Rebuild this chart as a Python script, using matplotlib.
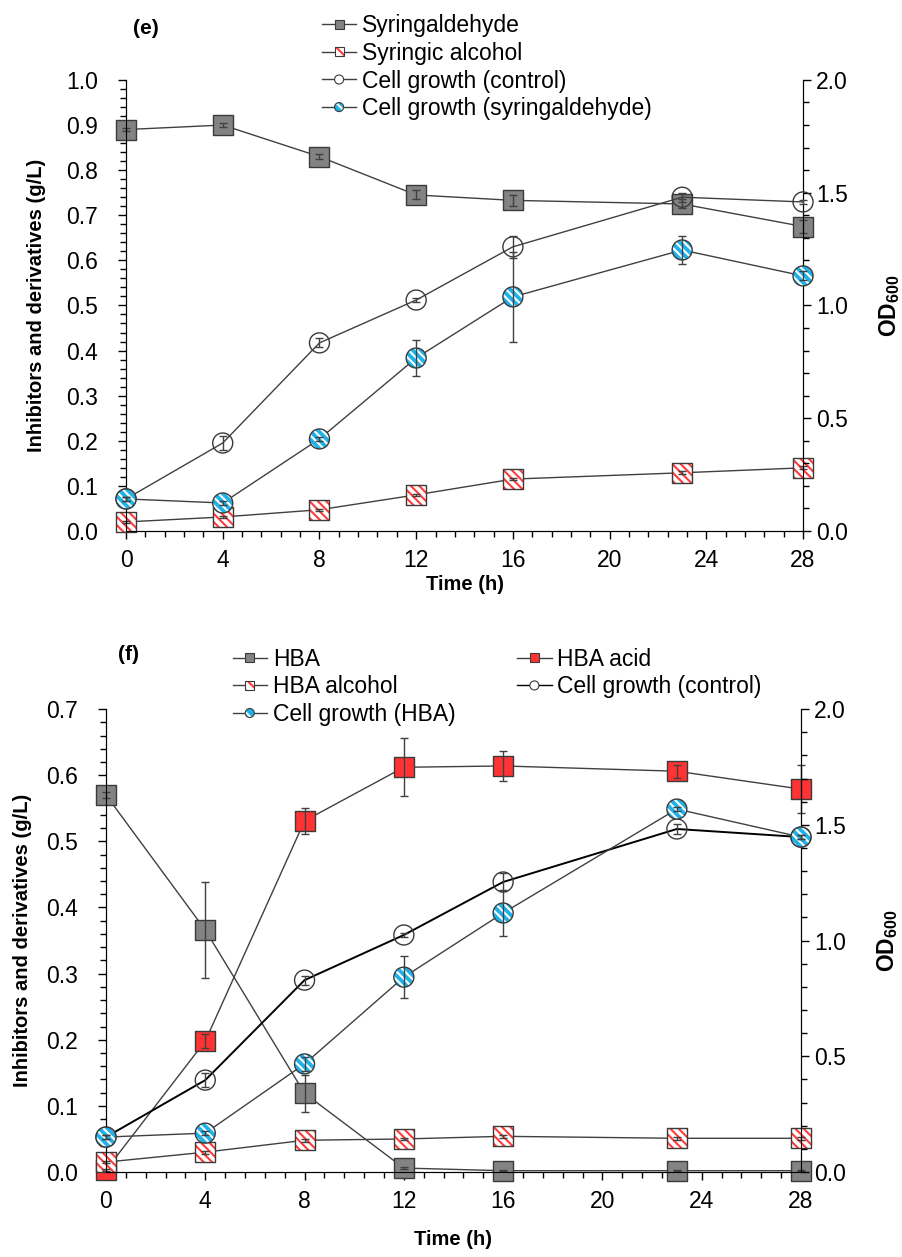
import numpy as np
import matplotlib
matplotlib.use("Agg")
import matplotlib.pyplot as plt
from matplotlib.lines import Line2D
from matplotlib.patches import Rectangle, Ellipse
from matplotlib.legend_handler import HandlerBase
from matplotlib.ticker import MultipleLocator, FormatStrFormatter

plt.rcParams['font.family'] = ['Liberation Sans', 'DejaVu Sans']
plt.rcParams['hatch.linewidth'] = 1.5
plt.rcParams['mathtext.fontset'] = 'custom'
plt.rcParams['mathtext.bf'] = 'Liberation Sans:bold'
plt.rcParams['mathtext.rm'] = 'Liberation Sans'

# sampling times (h)
t = [0, 4, 8, 12, 16, 23, 28]

# panel (e) - syringaldehyde
syr = [0.89, 0.90, 0.83, 0.745, 0.733, 0.725, 0.675]
syr_err = [0.004, 0.004, 0.005, 0.01, 0.012, 0.01, 0.015]
syr_alc = [0.02, 0.031, 0.047, 0.08, 0.115, 0.129, 0.14]
syr_alc_err = [0.002, 0.002, 0.002, 0.003, 0.003, 0.003, 0.003]
od_ctrl_e = [0.142, 0.39, 0.834, 1.024, 1.26, 1.48, 1.459]
od_ctrl_e_err = [0.01, 0.03, 0.02, 0.01, 0.05, 0.02, 0.01]
od_syr = [0.142, 0.124, 0.408, 0.767, 1.038, 1.246, 1.131]
od_syr_err = [0.01, 0.01, 0.01, 0.078, 0.2, 0.064, 0.02]

# panel (f) - HBA
hba = [0.570, 0.366, 0.119, 0.006, 0.002, 0.002, 0.002]
hba_err = [0.005, 0.072, 0.028, 0.002, 0.001, 0.001, 0.001]
hba_acid = [0.003, 0.198, 0.531, 0.612, 0.614, 0.606, 0.579]
hba_acid_err = [0.001, 0.01, 0.02, 0.044, 0.022, 0.01, 0.036]
hba_alc = [0.015, 0.030, 0.048, 0.050, 0.054, 0.051, 0.051]
hba_alc_err = [0.002, 0.002, 0.002, 0.002, 0.002, 0.002, 0.002]
od_ctrl_f = [0.151, 0.397, 0.829, 1.024, 1.253, 1.482, 1.447]
od_ctrl_f_err = [0.01, 0.03, 0.02, 0.01, 0.04, 0.02, 0.01]
od_hba = [0.151, 0.168, 0.467, 0.842, 1.119, 1.568, 1.447]
od_hba_err = [0.01, 0.01, 0.03, 0.09, 0.1, 0.01, 0.01]

LINE = '#404040'
EDGE = '#3a3a3a'
GRAY = '#848282'
RED = '#ff3333'
STRIPE_RED = '#ff3b3b'
BLUE = '#1fb2e8'
FS = 16.5    # ticks and legend
LFS = 14.5   # bold axis labels
MS = 14.4 ** 2
HATCH = '\\\\\\\\'


def series(ax, y, err, kind, lc=LINE, lw=1.0):
    ax.plot(t, y, color=lc, lw=lw, zorder=2, clip_on=False)
    m = 's' if kind in ('gray', 'red', 'redhatch') else 'o'
    if kind == 'gray':
        ax.scatter(t, y, s=MS, marker=m, facecolor=GRAY, edgecolor=EDGE, linewidths=1, zorder=3, clip_on=False)
    elif kind == 'red':
        ax.scatter(t, y, s=MS, marker=m, facecolor=RED, edgecolor=EDGE, linewidths=1, zorder=3, clip_on=False)
    elif kind == 'open':
        ax.scatter(t, y, s=MS, marker=m, facecolor='none', edgecolor=EDGE, linewidths=1, zorder=3, clip_on=False)
    else:
        face, stripe = ('white', STRIPE_RED) if kind == 'redhatch' else (BLUE, 'white')
        ax.scatter(t, y, s=MS, marker=m, facecolor=face, edgecolor=stripe, linewidths=0,
                   hatch=HATCH, zorder=3, clip_on=False)
        ax.scatter(t, y, s=MS, marker=m, facecolor='none', edgecolor=EDGE, linewidths=1, zorder=3.1, clip_on=False)
    ax.errorbar(t, y, yerr=err, fmt='none', ecolor=LINE, elinewidth=1, capsize=3, capthick=1,
                zorder=4, clip_on=False)


class Mark(HandlerBase):
    def __init__(self, kind, lc=LINE):
        super().__init__()
        self.kind = kind
        self.lc = lc

    def create_artists(self, legend, orig, xd, yd, w, h, fs, trans):
        y = h / 2 - yd
        x0, x1 = -xd, w - xd
        cx = (x0 + x1) / 2
        s = 6.5
        arts = [Line2D([x0, x1], [y, y], color=self.lc, lw=1, transform=trans)]
        sq = self.kind in ('gray', 'red', 'redhatch')
        face = {'gray': GRAY, 'red': RED, 'redhatch': 'white', 'bluehatch': BLUE, 'open': 'white'}[self.kind]

        def shape(**kw):
            if sq:
                return Rectangle((cx - s / 2, y - s / 2), s, s, transform=trans, **kw)
            return Ellipse((cx, y), s, s, transform=trans, **kw)

        arts.append(shape(facecolor=face, edgecolor='none', lw=0))
        if self.kind in ('redhatch', 'bluehatch'):
            stripe = STRIPE_RED if self.kind == 'redhatch' else 'white'
            arts.append(shape(facecolor='none', edgecolor=stripe, lw=0, hatch='\\\\\\'))
        arts.append(shape(facecolor='none', edgecolor=EDGE, lw=0.8))
        return arts


def style(ax, ax2, ymax, ystep, yminor, xpad, ypad):
    ax.set_xlim(0, 28)
    ax.set_ylim(0, ymax)
    ax2.set_ylim(0, 2.0)
    ax.xaxis.set_major_locator(MultipleLocator(4))
    ax.xaxis.set_minor_locator(MultipleLocator(0.8))
    ax.yaxis.set_major_locator(MultipleLocator(ystep))
    ax.yaxis.set_minor_locator(MultipleLocator(yminor))
    ax.yaxis.set_major_formatter(FormatStrFormatter('%.1f'))
    ax2.yaxis.set_major_locator(MultipleLocator(0.5))
    ax2.yaxis.set_minor_locator(MultipleLocator(0.1))
    ax2.yaxis.set_major_formatter(FormatStrFormatter('%.1f'))
    for a in (ax, ax2):
        a.spines['top'].set_visible(False)
        a.tick_params(which='major', direction='out', length=6, width=1, labelsize=FS)
        a.tick_params(which='minor', direction='out', length=4, width=1)
    ax.tick_params(axis='x', which='major', pad=7)
    ax.tick_params(axis='y', which='major', pad=14)
    ax.set_xlabel('Time (h)', fontsize=LFS, fontweight='bold', labelpad=xpad)
    ax.set_ylabel('Inhibitors and derivatives (g/L)', fontsize=LFS, fontweight='bold', labelpad=ypad)
    ax2.set_ylabel(r'$\mathbf{OD_{600}}$', fontsize=FS, labelpad=21)


fig = plt.figure(figsize=(9.02, 12.57), dpi=100)

# panel (e)
axe = fig.add_axes([0.1397, 0.5776, 0.7506, 0.3588])
axe2 = axe.twinx()
series(axe, syr, syr_err, 'gray')
series(axe, syr_alc, syr_alc_err, 'redhatch')
series(axe2, od_ctrl_e, od_ctrl_e_err, 'open')
series(axe2, od_syr, od_syr_err, 'bluehatch')
style(axe, axe2, 1.0, 0.1, 0.02, 2, 15)
fig.text(0.147, 0.977, '(e)', fontsize=15, fontweight='bold', ha='left', va='center')

h_e = [Line2D([], []) for _ in range(4)]
kinds_e = ['gray', 'redhatch', 'open', 'bluehatch']
fig.legend(h_e, ['Syringaldehyde', 'Syringic alcohol', 'Cell growth (control)', 'Cell growth (syringaldehyde)'],
           handler_map={h: Mark(k) for h, k in zip(h_e, kinds_e)},
           loc='upper left', bbox_to_anchor=(0.334, 1.005), frameon=False, fontsize=FS,
           handlelength=1.5, handletextpad=0.25, labelspacing=0.2)

# panel (f)
axf = fig.add_axes([0.1175, 0.0676, 0.7705, 0.3683])
axf2 = axf.twinx()
series(axf, hba, hba_err, 'gray')
series(axf, hba_acid, hba_acid_err, 'red')
series(axf, hba_alc, hba_alc_err, 'redhatch')
series(axf2, od_ctrl_f, od_ctrl_f_err, 'open', lc='black', lw=1.4)
series(axf2, od_hba, od_hba_err, 'bluehatch')
style(axf, axf2, 0.7, 0.1, 0.02, 12, 10)
fig.text(0.131, 0.479, '(f)', fontsize=15, fontweight='bold', ha='left', va='center')

h_f = [Line2D([], []) for _ in range(5)]
kinds_f = ['gray', 'redhatch', 'bluehatch', 'red', 'open']
lcs_f = [LINE, LINE, LINE, LINE, 'black']
fig.legend(h_f, ['HBA', 'HBA alcohol', 'Cell growth (HBA)', 'HBA acid', 'Cell growth (control)'],
           handler_map={h: Mark(k, c) for h, k, c in zip(h_f, kinds_f, lcs_f)},
           loc='upper left', bbox_to_anchor=(0.235, 0.501), ncol=2, frameon=False, fontsize=FS,
           handlelength=1.5, handletextpad=0.25, labelspacing=0.2, columnspacing=2.7)

fig.savefig('out.png', dpi=100)
